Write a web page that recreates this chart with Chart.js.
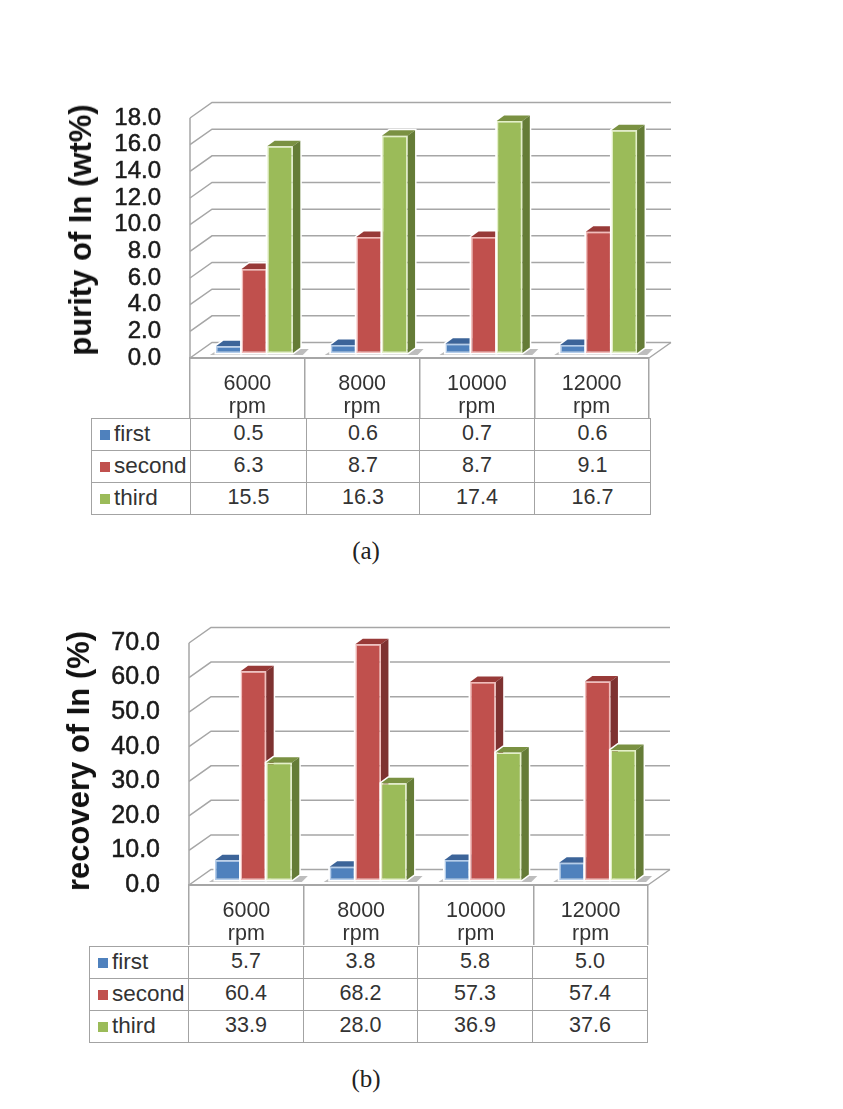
<!DOCTYPE html>
<html>
<head>
<meta charset="utf-8">
<script src="https://cdn.jsdelivr.net/npm/chart.js@4"></script>
<style>
    html, body { margin: 0; padding: 0; background: #fff; }
    #page { position: relative; width: 843px; height: 1109px; overflow: hidden; }
    canvas { position: absolute; left: 0; }
    .axisTitle { position: absolute; font: bold 31px "Liberation Sans", Arial, sans-serif; color: #111; white-space: nowrap; transform: translate(-50%, -50%) rotate(-90deg); }
    .caption { position: absolute; font: 25px "Liberation Serif", serif; color: #222; transform: translateX(-50%); }
    table { position: absolute; border-collapse: collapse; table-layout: fixed; font: 21.5px "Liberation Sans", Arial, sans-serif; color: #333; }
    td { border: 1.5px solid #a3a3a3; padding: 0 0 2px; height: 29px; text-align: center; }
    td.name { text-align: left; padding-left: 8px; white-space: nowrap; font-size: 22.5px; }
    td.name i { display: inline-block; width: 10px; height: 10px; margin-right: 4px; vertical-align: 1px; }
</style>
</head>
<body>
<div id="page"></div>
<script>
var rpmLabels = [['6000', 'rpm'], ['8000', 'rpm'], ['10000', 'rpm'], ['12000', 'rpm']];
var seriesNames = ['first', 'second', 'third'];
var frontColors = ['#4f81bd', '#c0504d', '#9bbb59'];
var edgeColors = ['#b5cdea', '#f2bcba', '#e4f0c8'];
var topColors = ['#3c6499', '#983a38', '#7a9142'];
var sideColors = ['#36598a', '#7e3231', '#657c37'];

var purityFirst = [0.5, 0.6, 0.7, 0.6];
var puritySecond = [6.3, 8.7, 8.7, 9.1];
var purityThird = [15.5, 16.3, 17.4, 16.7];

var recoveryFirst = [5.7, 3.8, 5.8, 5.0];
var recoverySecond = [60.4, 68.2, 57.3, 57.4];
var recoveryThird = [33.9, 28.0, 36.9, 37.6];

var GRID = '#a6a6a6';

function poly(ctx, pts, fill) {
    ctx.beginPath();
    ctx.moveTo(pts[0][0], pts[0][1]);
    for (var i = 1; i < pts.length; i++) ctx.lineTo(pts[i][0], pts[i][1]);
    ctx.closePath();
    ctx.fillStyle = fill;
    ctx.fill();
}

// back wall, floor and the slanted gridlines of the 3d box
var wallPlugin = {
    id: 'wall',
    beforeDatasetsDraw: function (chart, args, opts) {
        var ctx = chart.ctx, a = chart.chartArea, y = chart.scales.y;
        ctx.save();
        ctx.strokeStyle = GRID;
        ctx.lineWidth = 1.5;
        y.ticks.forEach(function (t) {
            var py = y.getPixelForValue(t.value);
            ctx.beginPath();
            ctx.moveTo(a.left, py);
            ctx.lineTo(a.left + opts.dx, py - opts.dy);
            ctx.lineTo(a.right + opts.dx, py - opts.dy);
            ctx.stroke();
        });
        ctx.beginPath();
        ctx.moveTo(a.left, a.top);
        ctx.lineTo(a.left, a.bottom);
        ctx.moveTo(a.right, a.bottom);
        ctx.lineTo(a.right + opts.dx, a.bottom - opts.dy);
        ctx.stroke();
        ctx.restore();
    }
};

// bars stand in the middle of the floor, so shift them and add their depth faces.
// Drawn here first to last, because the third series has to cover the side of the second
var barDepthPlugin = {
    id: 'barDepth',
    beforeDatasetDraw: function () {
        return false;
    },
    afterDatasetsDraw: function (chart, args, opts) {
        var ctx = chart.ctx;
        ctx.save();
        ctx.translate(opts.shiftX, opts.shiftY);
        var first = chart.getDatasetMeta(0).data, last = chart.getDatasetMeta(2).data;
        first.forEach(function (bar, i) {
            var l = bar.x - bar.width / 2, r = last[i].x + last[i].width / 2, b = bar.base;
            poly(ctx, [[l - 6, b + 2], [l + 3, b - 4], [r + 16, b - 4], [r + 10, b + 2]], '#bdbdbd');
        });
        for (var i = 0; i < 3; i++) {
            var meta = chart.getDatasetMeta(i);
            meta.data.forEach(function (bar) {
                var l = bar.x - bar.width / 2, r = bar.x + bar.width / 2, t = bar.y, b = bar.base;
                var dx = opts.depthX, dy = opts.depthY;
                var outline = [[l, b], [l, t], [l + dx, t - dy], [r + dx, t - dy], [r + dx, b - dy], [r, b]];
                ctx.save();
                ctx.beginPath();
                outline.forEach(function (p, k) { k ? ctx.lineTo(p[0], p[1]) : ctx.moveTo(p[0], p[1]); });
                ctx.closePath();
                ctx.strokeStyle = '#fff';
                ctx.lineWidth = 3;
                ctx.stroke();
                ctx.restore();
                poly(ctx, [[l, t], [l + dx, t - dy], [r + dx, t - dy], [r, t]], topColors[i]);
                poly(ctx, [[r, t], [r + dx, t - dy], [r + dx, b - dy], [r, b]], sideColors[i]);
            });
            meta.controller.draw();
        }
        ctx.restore();
    }
};

function makePanel(p) {
    var page = document.getElementById('page');

    var canvas = document.createElement('canvas');
    canvas.width = 700;
    canvas.height = p.areaBottom + 60 - p.canvasTop;
    canvas.style.top = p.canvasTop + 'px';
    page.appendChild(canvas);

    new Chart(canvas.getContext('2d'), {
        type: 'bar',
        data: {
            labels: rpmLabels,
            datasets: p.values.map(function (vals, i) {
                return {
                    label: seriesNames[i],
                    data: vals,
                    backgroundColor: frontColors[i],
                    borderColor: edgeColors[i],
                    borderWidth: 1.5,
                    borderSkipped: false
                };
            })
        },
        options: {
            responsive: false,
            animation: false,
            devicePixelRatio: 1,
            layout: { padding: { left: 0, right: 700 - p.areaRight, top: p.areaTop - p.canvasTop, bottom: 0 } },
            datasets: { bar: { barPercentage: 1, categoryPercentage: 0.67 } },
            plugins: {
                legend: { display: false },
                tooltip: { enabled: false },
                wall: { dx: 22, dy: 15.5 },
                barDepth: { shiftX: 7, shiftY: -5, depthX: 7.5, depthY: 5.5 }
            },
            scales: {
                x: {
                    afterFit: function (s) { s.height = 60; s.paddingLeft = 0; s.paddingRight = 0; },
                    grid: { drawOnChartArea: false, color: GRID, lineWidth: 1.5, tickLength: 60, offset: true },
                    border: { color: GRID, width: 2 },
                    ticks: {
                        padding: -46,
                        color: '#333',
                        autoSkip: false,
                        maxRotation: 0,
                        font: { family: '"Liberation Sans", Arial, sans-serif', size: 21.5, lineHeight: 1.1 }
                    }
                },
                y: {
                    min: 0,
                    max: p.max,
                    afterFit: function (s) { s.width = p.areaLeft; s.paddingTop = 0; s.paddingBottom = 0; },
                    grid: { display: false },
                    border: { display: false },
                    ticks: {
                        stepSize: p.step,
                        padding: 21,
                        color: '#1a1a1a',
                        textStrokeColor: '#1a1a1a',
                        textStrokeWidth: 0.5,
                        autoSkip: false,
                        font: { family: '"Liberation Sans", Arial, sans-serif', size: p.tickSize },
                        callback: function (v) { return v.toFixed(1); }
                    }
                }
            }
        },
        plugins: [wallPlugin, barDepthPlugin]
    });

    var title = document.createElement('div');
    title.className = 'axisTitle';
    title.textContent = p.title;
    title.style.left = p.titleX + 'px';
    title.style.top = p.titleY + 'px';
    page.appendChild(title);

    // data table under the plot, same arrays as the bars
    var table = document.createElement('table');
    table.style.left = p.tableLeft + 'px';
    table.style.top = p.tableTop + 'px';
    var html = '<colgroup>' + p.cols.map(function (w) { return '<col style="width:' + w + 'px">'; }).join('') + '</colgroup>';
    seriesNames.forEach(function (name, i) {
        html += '<tr><td class="name"><i style="background:' + frontColors[i] + '"></i>' + name + '</td>';
        p.values[i].forEach(function (v) { html += '<td>' + v.toFixed(1) + '</td>'; });
        html += '</tr>';
    });
    table.innerHTML = html;
    page.appendChild(table);

    var cap = document.createElement('div');
    cap.className = 'caption';
    cap.textContent = p.caption;
    cap.style.left = '366px';
    cap.style.top = p.captionTop + 'px';
    page.appendChild(cap);
}

makePanel({
    title: 'purity of In (wt%)', titleX: 81, titleY: 230,
    values: [purityFirst, puritySecond, purityThird], max: 18, step: 2, tickSize: 24,
    canvasTop: 90, areaLeft: 190, areaRight: 649, areaTop: 118, areaBottom: 358,
    tableLeft: 91, tableTop: 418, cols: [99, 116, 113, 115, 116],
    caption: '(a)', captionTop: 537
});

makePanel({
    title: 'recovery of In (%)', titleX: 79, titleY: 761,
    values: [recoveryFirst, recoverySecond, recoveryThird], max: 70, step: 10, tickSize: 25,
    canvasTop: 615, areaLeft: 189, areaRight: 648, areaTop: 643, areaBottom: 885,
    tableLeft: 89, tableTop: 946, cols: [99, 115, 114, 115, 115],
    caption: '(b)', captionTop: 1065
});
</script>
</body>
</html>
